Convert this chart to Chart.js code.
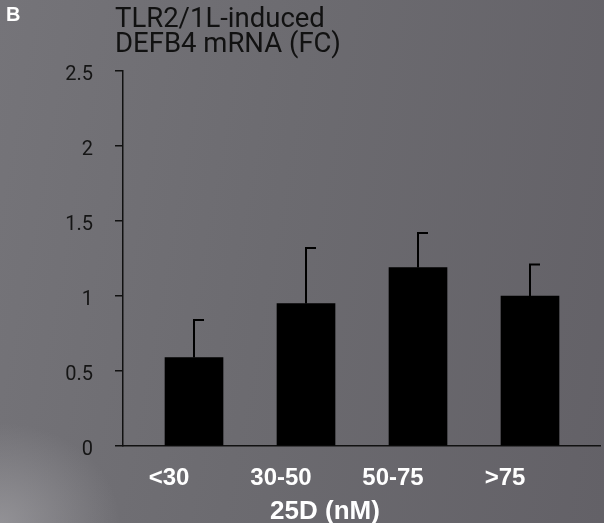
<!DOCTYPE html>
<html>
<head>
<meta charset="utf-8">
<script src="https://cdn.jsdelivr.net/npm/chart.js@4"></script>
<style>
    html, body { margin: 0; padding: 0; }
    body {
        width: 604px; height: 523px; overflow: hidden;
        background:
            radial-gradient(ellipse 120px 100px at 0px 523px, rgba(160,159,163,0.7), rgba(160,159,163,0) 100%),
            linear-gradient(100deg, #757479 0%, #6c6b70 45%, #636167 100%);
    }
    #wrap { position: relative; width: 604px; height: 523px; }
</style>
</head>
<body>
<div id="wrap"><canvas id="grafik" width="604" height="523"></canvas></div>
<script>
// ===============================
// Data
// ===============================
const kategori = ["<30", "30-50", "50-75", ">75"];
const nilai = [0.59, 0.95, 1.19, 1.0];
const sd = [0.25, 0.37, 0.23, 0.21];
const yTicks = [0, 0.5, 1, 1.5, 2, 2.5];

// error bar, ditarik dari skala chart
const errorBars = {
    id: "errorBars",
    afterDatasetsDraw(chart) {
        const ctx = chart.ctx;
        const xs = chart.scales.x, ys = chart.scales.y;
        ctx.save();
        ctx.strokeStyle = "#000";
        ctx.lineWidth = 2;
        nilai.forEach((v, i) => {
            const x = xs.getPixelForValue(i);
            const yBar = ys.getPixelForValue(v);
            const yTop = ys.getPixelForValue(v + sd[i]);
            ctx.beginPath();
            ctx.moveTo(x, yBar);
            ctx.lineTo(x, yTop);
            ctx.moveTo(x - 1, yTop);
            ctx.lineTo(x + 10, yTop);
            ctx.stroke();
        });
        ctx.restore();
    }
};

// teks judul dan label
const teks = {
    id: "teks",
    afterDraw(chart) {
        const ctx = chart.ctx;
        ctx.save();
        ctx.textBaseline = "alphabetic";
        ctx.fillStyle = "#fff";
        ctx.font = "bold 20px 'Liberation Sans', Arial, sans-serif";
        ctx.fillText("B", 6, 21);
        ctx.fillStyle = "#111";
        ctx.font = "27.5px Roboto, sans-serif";
        ctx.fillText("TLR2/1L-induced", 115, 27);
        ctx.fillText("DEFB4 mRNA (FC)", 115, 52);
        ctx.fillStyle = "#fff";
        ctx.font = "bold 26px 'Liberation Sans', Arial, sans-serif";
        ctx.textAlign = "center";
        ctx.fillText("25D (nM)", 325, 519);
        ctx.restore();
    }
};

new Chart(document.getElementById("grafik"), {
    type: "bar",
    data: {
        datasets: [{
            data: nilai.map((v, i) => ({ x: i, y: v })),
            backgroundColor: "#000",
            borderWidth: 0,
            barThickness: 58
        }]
    },
    options: {
        responsive: false,
        animation: false,
        layout: { padding: { top: 71, right: 4, left: 0, bottom: 0 } },
        plugins: { legend: { display: false }, tooltip: { enabled: false } },
        scales: {
            x: {
                type: "linear",
                offset: false,
                min: -0.634,
                max: 3.625,
                afterBuildTicks: s => { s.ticks = kategori.map((k, i) => ({ value: i })); },
                afterFit: s => { s.height = 77; },
                grid: { display: false, drawTicks: false, offset: false },
                border: { display: true, color: "#111", width: 1.5 },
                ticks: {
                    color: "#fff",
                    font: { family: "'Liberation Sans', Arial, sans-serif", size: 24, weight: "bold" },
                    padding: 18,
                    labelOffset: -25,
                    maxRotation: 0,
                    callback: v => kategori[v]
                }
            },
            y: {
                min: 0,
                max: 2.5,
                afterBuildTicks: s => { s.ticks = yTicks.map(v => ({ value: v })); },
                afterFit: s => { s.width = 123; },
                grid: { drawOnChartArea: false, tickLength: 8, color: "#111", lineWidth: 1.5 },
                border: { display: true, color: "#111", width: 1.5 },
                ticks: {
                    color: "#151515",
                    font: { family: "Roboto, sans-serif", size: 20 },
                    padding: 22,
                    labelOffset: 4,
                    callback: v => String(v)
                }
            }
        }
    },
    plugins: [errorBars, teks]
});
</script>
</body>
</html>
